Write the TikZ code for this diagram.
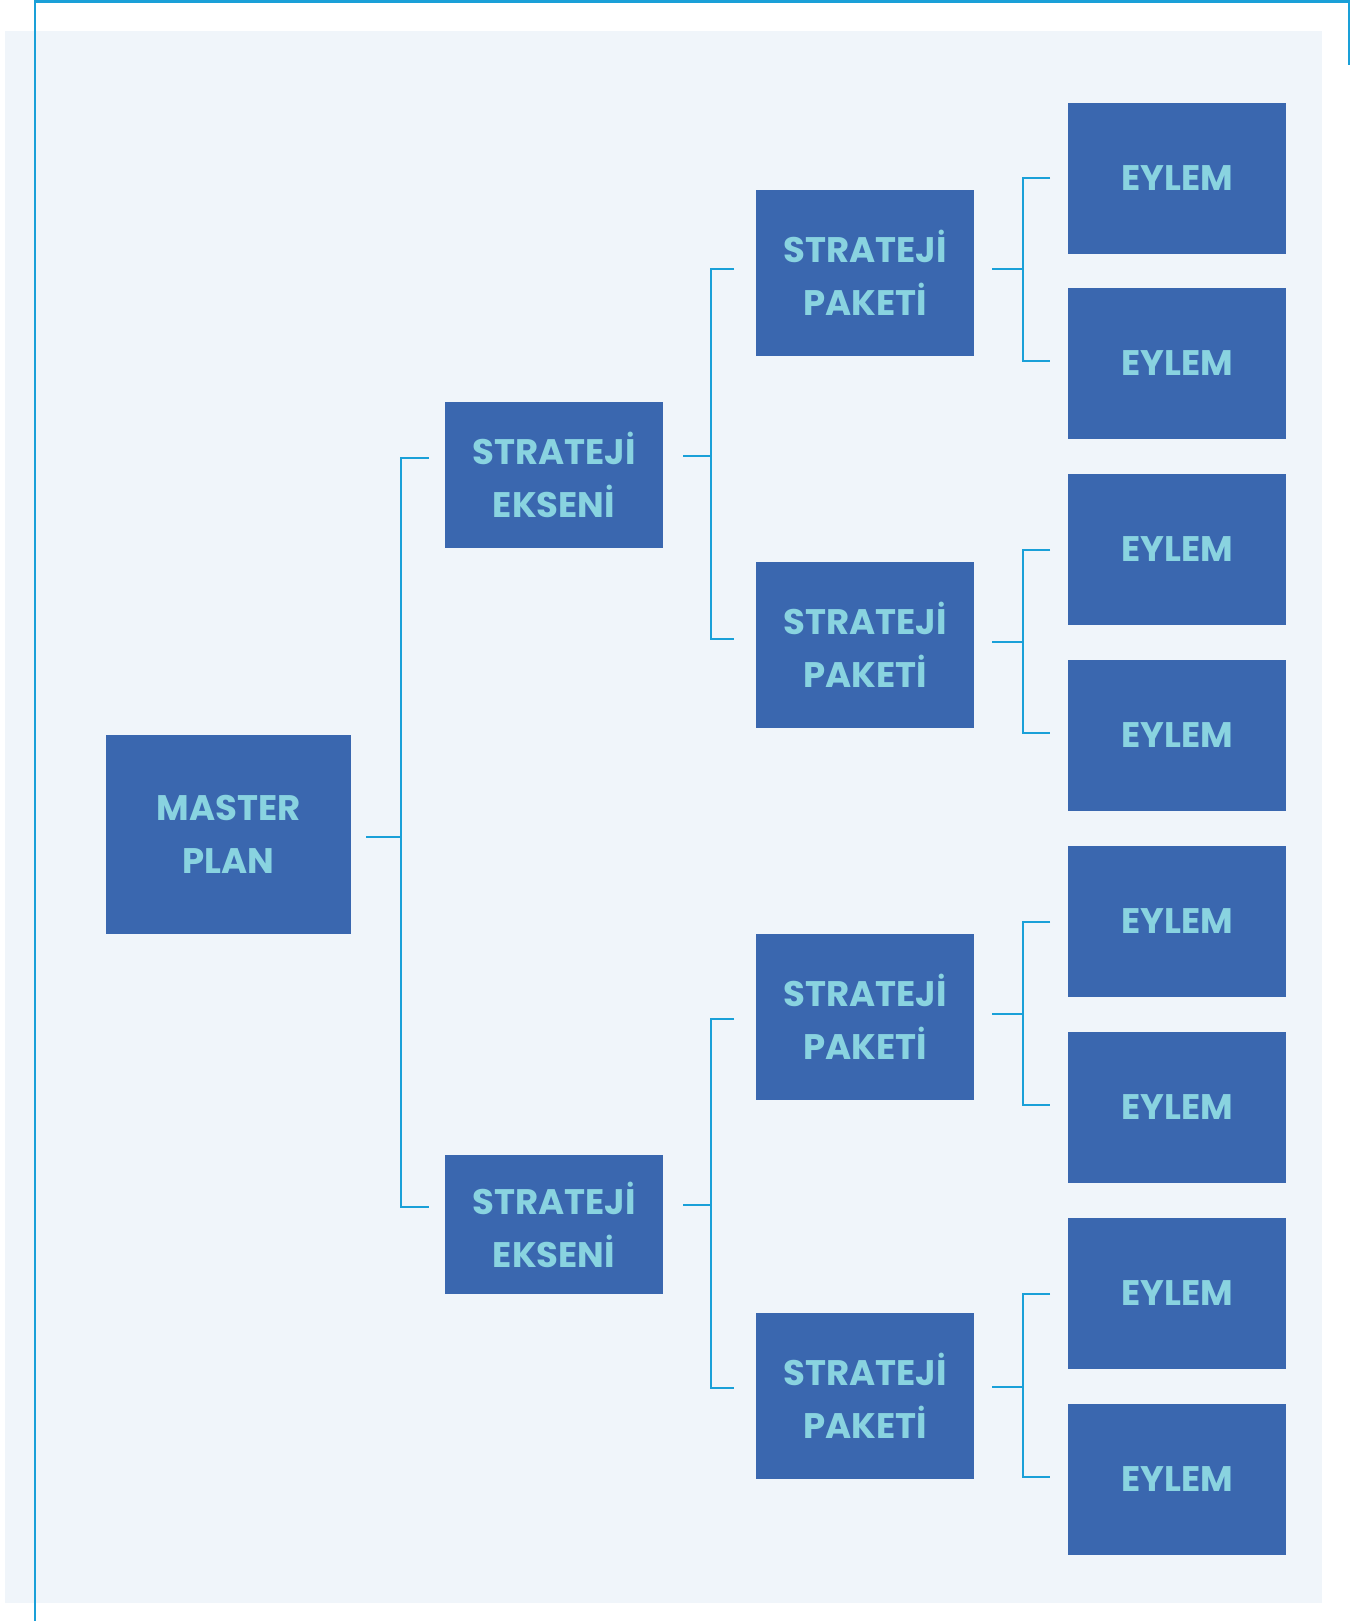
\documentclass[tikz,border=0pt]{standalone}
\usepackage{fontspec}
\setmainfont{Poppins}
\usetikzlibrary{calc}
\definecolor{bgc}{HTML}{F0F5FA}
\definecolor{boxc}{HTML}{3A67AF}
\definecolor{txtc}{HTML}{89D3E0}
\definecolor{linec}{HTML}{1AA0D8}
\tikzset{
  boxnode/.style={fill=boxc, text=txtc, font=\fontsize{35.5}{53}\selectfont\bfseries,
    align=center, inner sep=0pt, minimum width=218pt},
  masternode/.style={boxnode, minimum width=245pt, minimum height=199pt},
  eksennode/.style={boxnode},
  paketnode/.style={boxnode, minimum height=166pt},
  eylemnode/.style={boxnode, minimum height=151pt},
  conn/.style={draw=linec, line width=2.6pt},
  framelines/.style={draw=linec, line width=2.8pt}
}
\begin{document}
\begin{tikzpicture}[x=1pt,y=-1pt]
\useasboundingbox (0,0) rectangle (1356,1621);
\fill[bgc] (5,31) rectangle (1322,1603);
\draw[framelines] (35,1621) -- (35,1.4) -- (1349,1.4) -- (1349,65);

% nodes
\node[masternode] (master) at (228.5,834.5) {MASTER\\PLAN};
\node[eksennode, minimum height=146pt] (e1) at (554,475) {STRATEJİ\\EKSENİ};
\node[eksennode, minimum height=139pt] (e2) at (554,1224.5) {STRATEJİ\\EKSENİ};
\node[paketnode] (p1) at (865,273) {STRATEJİ\\PAKETİ};
\node[paketnode] (p2) at (865,645) {STRATEJİ\\PAKETİ};
\node[paketnode] (p3) at (865,1017) {STRATEJİ\\PAKETİ};
\node[paketnode] (p4) at (865,1396) {STRATEJİ\\PAKETİ};
\foreach \i/\y in {1/178.5,2/363.5,3/549.5,4/735.5,5/921.5,6/1107.5,7/1293.5,8/1479.5}
  \node[eylemnode] (y\i) at (1177,\y) {EYLEM};

% junction coordinates
\coordinate (mj) at (401,837);
\coordinate (e1in) at (429,458);
\coordinate (e2in) at (429,1207);
\coordinate (e1j) at (711,456);
\coordinate (e2j) at (711,1205);
\coordinate (p1in) at (734,269);
\coordinate (p2in) at (734,639);
\coordinate (p3in) at (734,1019);
\coordinate (p4in) at (734,1388);
\coordinate (p1j) at (1023,269);
\coordinate (p2j) at (1023,642);
\coordinate (p3j) at (1023,1014);
\coordinate (p4j) at (1023,1387);
\coordinate (y1in) at (1050,178);
\coordinate (y2in) at (1050,361);
\coordinate (y3in) at (1050,550);
\coordinate (y4in) at (1050,733);
\coordinate (y5in) at (1050,922);
\coordinate (y6in) at (1050,1105);
\coordinate (y7in) at (1050,1294);
\coordinate (y8in) at (1050,1477);

% master -> ekseni
\draw[conn] (master.east |- mj) ++(15,0) -- (mj);
\draw[conn] (e1in) -| (mj) |- (e2in);
% ekseni -> paketi
\draw[conn] (e1.east |- e1j) ++(20,0) -- (e1j);
\draw[conn] (p1in) -| (e1j) |- (p2in);
\draw[conn] (e2.east |- e2j) ++(20,0) -- (e2j);
\draw[conn] (p3in) -| (e2j) |- (p4in);
% paketi -> eylem
\draw[conn] (p1.east |- p1j) ++(18,0) -- (p1j);
\draw[conn] (y1in) -| (p1j) |- (y2in);
\draw[conn] (p2.east |- p2j) ++(18,0) -- (p2j);
\draw[conn] (y3in) -| (p2j) |- (y4in);
\draw[conn] (p3.east |- p3j) ++(18,0) -- (p3j);
\draw[conn] (y5in) -| (p3j) |- (y6in);
\draw[conn] (p4.east |- p4j) ++(18,0) -- (p4j);
\draw[conn] (y7in) -| (p4j) |- (y8in);
\end{tikzpicture}
\end{document}
